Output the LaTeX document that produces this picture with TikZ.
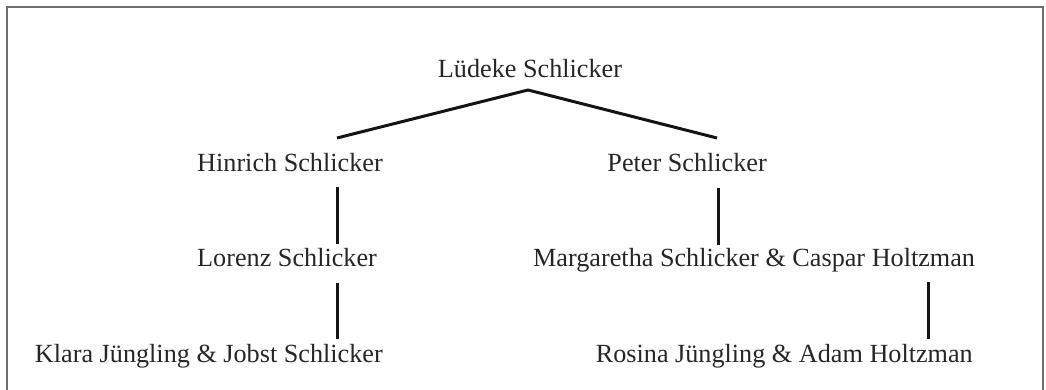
\documentclass[tikz,border=0pt]{standalone}
\usepackage{fontspec}
\setmainfont{Liberation Serif}
\definecolor{txt}{HTML}{262626}
\definecolor{ln}{HTML}{141414}
\definecolor{frm}{HTML}{6E6E6E}
\tikzset{
  person/.style={inner sep=0pt, text=txt, font=\fontsize{26.2}{30}\selectfont},
  link/.style={draw=ln, line width=3pt},
  frame/.style={draw=frm, line width=1.6pt}
}
\begin{document}
\begin{tikzpicture}[x=1pt,y=-1pt]
\useasboundingbox (0,0) rectangle (1046,390);
\draw[frame] (7,7) rectangle (1043,420);
% people
\node[person, anchor=base] (lud) at (530,78) {Lüdeke Schlicker};
\node[person, anchor=base west] (hin) at (197,172) {Hinrich Schlicker};
\node[person, anchor=base east] (pet) at (767,172) {Peter Schlicker};
\node[person, anchor=base west] (lor) at (197,266) {Lorenz Schlicker};
\node[person, anchor=base west] (mar) at (533,266) {Margaretha Schlicker \& Caspar Holtzman};
\node[person, anchor=base east] (kla) at (383,362) {Klara Jüngling \& Jobst Schlicker};
\node[person, anchor=base east] (ros) at (973,362) {Rosina Jüngling \& Adam Holtzman};
% connector end points
\coordinate (ludB) at (528,90);
\coordinate (hinT) at (337,138);
\coordinate (petT) at (717,138);
\coordinate (hinB) at (337,187);
\coordinate (lorT) at (337,244);
\coordinate (lorB) at (337,283);
\coordinate (klaT) at (337,339);
\coordinate (petB) at (718,188);
\coordinate (marT) at (718,245);
\coordinate (marB) at (928,282);
\coordinate (rosT) at (928,339);
% connectors
\draw[link] (hinT) -- (ludB) -- (petT);
\draw[link] (hinB) -- (lorT);
\draw[link] (lorB) -- (klaT);
\draw[link] (petB) -- (marT);
\draw[link] (marB) -- (rosT);
\end{tikzpicture}
\end{document}
